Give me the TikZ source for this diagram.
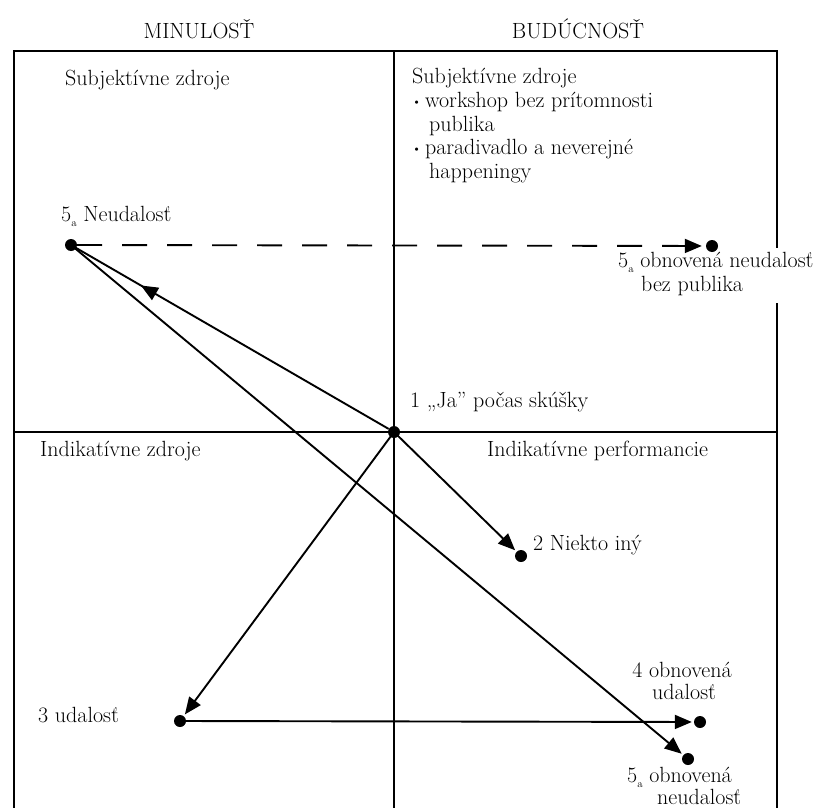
\documentclass[tikz,border=0pt]{standalone}
\usetikzlibrary{arrows.meta,decorations.markings}
\newcommand{\fivea}{5\raisebox{-0.55ex}{\fontsize{11}{11}\selectfont a}}
\newcommand{\smallbullet}{\raisebox{0.15ex}{\fontsize{12}{12}\selectfont\textbullet}}
\begin{document}
\begin{tikzpicture}[x=1pt,y=-1pt,
  frame/.style={line width=2pt},
  dot/.style={circle,fill=black,inner sep=0pt,minimum size=12pt},
  conn/.style={line width=1.9pt},
  tip/.style={-{Triangle[length=17pt,width=14pt]}},
  lbl/.style={anchor=base west,inner sep=0pt,font=\fontsize{22}{24}\selectfont},
  midtip/.style={postaction={decorate},decoration={markings,
    mark=at position #1 with {\arrow{Triangle[length=17pt,width=14pt]}}}}]
\useasboundingbox (0,0) rectangle (827,808);

% quadrant frame (right edge left open beside the long label)
\draw[frame] (14,808) -- (14,51) -- (777,51) -- (777,248);
\draw[frame] (777,303) -- (777,808);
\draw[frame] (394,51) -- (394,808);
\draw[frame] (14,432) -- (777,432);

% column headings
\node[lbl,anchor=base] (hpast) at (199,39) {MINULOSŤ};
\node[lbl,anchor=base] (hfut) at (578,39) {BUDÚCNOSŤ};

% quadrant labels
\node[lbl] (q1) at (65,85) {Subjektívne zdroje};
\node[lbl] (q2) at (412,83) {Subjektívne zdroje};
\node[lbl] (q2a) at (412,107) {\smallbullet\,workshop bez prítomnosti};
\node[lbl] (q2b) at (429,131) {publika};
\node[lbl] (q2c) at (412,154) {\smallbullet\,paradivadlo a neverejné};
\node[lbl] (q2d) at (429,178) {happeningy};
\node[lbl] (q3) at (40,456) {Indikatívne zdroje};
\node[lbl] (q4) at (487,456) {Indikatívne performancie};

% points
\node[dot] (n5a) at (71,245) {};
\node[dot] (n5r) at (712,246) {};
\node[dot] (n1) at (394,432) {};
\node[dot] (n2) at (521,556) {};
\node[dot] (n3) at (180,721) {};
\node[dot] (n4) at (700,722) {};
\node[dot] (n5o) at (688,759) {};

% point labels
\node[lbl] (t5a) at (61,221) {\fivea\ Neudalosť};
\node[lbl] (t5r) at (618,267) {\fivea\ obnovená neudalosť};
\node[lbl] (t5rb) at (641,291) {bez publika};
\node[lbl] (t1) at (410,407) {1 „Ja” počas skúšky};
\node[lbl,anchor=base] (t4) at (682,677) {4 obnovená};
\node[lbl,anchor=base] (t4b) at (684,699) {udalosť};
\node[lbl] (t2) at (533,550) {2 Niekto iný};
\node[lbl] (t3) at (38,722) {3 udalosť};
\node[lbl] (t5o) at (627,782) {\fivea\ obnovená};
\node[lbl] (t5ob) at (657,804) {neudalosť};

% connectors
\draw[conn,tip,dash pattern=on 25pt off 20pt,shorten >=4pt] (n5a) -- (n5r);
\draw[conn,midtip=0.78] (n1) -- (n5a.center);
\draw[conn,tip,shorten >=2pt] (n5a.center) -- (n5o);
\draw[conn,tip,shorten >=2pt] (n1.center) -- (n2);
\draw[conn,tip,shorten >=2pt] (n1.center) -- (n3);
\draw[conn,tip,shorten >=2pt] (n3.center) -- (n4);
\end{tikzpicture}
\end{document}
